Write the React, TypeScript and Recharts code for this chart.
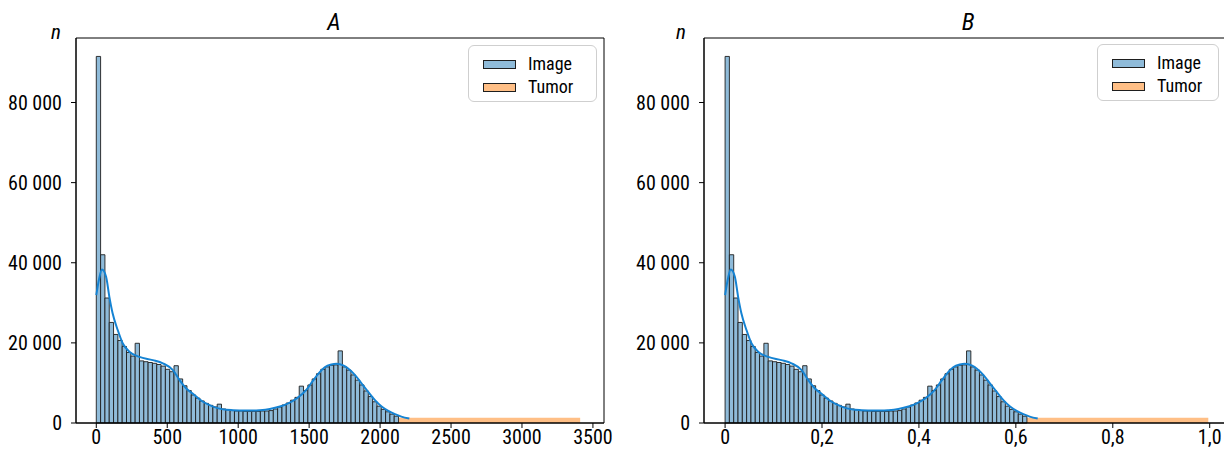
import React from 'react';
import { ComposedChart, Line, XAxis, YAxis, ReferenceArea } from 'recharts';

// ---------- data ----------
// histogram of image intensities (70 equal bins)
const imageCounts = [
  91500, 42000, 31200, 25100, 22100, 20600, 19100, 17600, 16700, 19900,
  15500, 15300, 15100, 14900, 14600, 14200, 13400, 12800, 14300, 11000,
  9300, 8100, 7000, 6200, 5500, 4900, 4400, 4000, 4700, 3500,
  3300, 3100, 3000, 3000, 2900, 2900, 2900, 2900, 3000, 3000,
  3100, 3500, 4000, 4500, 5000, 5700, 6400, 9200, 8100, 9500,
  11000, 12300, 13400, 14000, 14400, 14500, 18000, 14000, 13200, 12000,
  10700, 9500, 8000, 6600, 5300, 4200, 3400, 2800, 2200, 1700,
];
const imageMaxA = 2130; // upper edge of last image bin (raw units)
const tumorBinA = [2130, 3410]; // tumor histogram single bin (raw units)
const tumorCount = 1300;
const normMax = 3420; // normalisation constant for panel B

// KDE curve (raw units)
const kdeX = [0, 20, 40, 69, 92, 115, 151, 186, 233, 304, 398, 469, 540, 587, 634, 681, 752, 823, 894, 964,
  1047, 1105, 1153, 1223, 1294, 1341, 1412, 1483, 1530, 1570, 1610, 1657, 1692, 1740, 1775, 1822, 1869,
  1916, 1964, 2011, 2058, 2105, 2150, 2206];
const kdeY = [31900, 36000, 38300, 36500, 31500, 27400, 23200, 19900, 17800, 16500, 15700, 14900, 13200, 10700,
  8600, 7300, 5300, 4100, 3400, 3200, 3100, 3100, 3200, 3500, 4100, 4700, 6100, 8400, 10700, 12500, 13900,
  14600, 14800, 14400, 13600, 12000, 9900, 7800, 5700, 4100, 3000, 2200, 1600, 1100];

const yTicks = [0, 20000, 40000, 60000, 80000];
const xTicksA = [0, 500, 1000, 1500, 2000, 2500, 3000, 3500];
const xTicksB = [0, 0.2, 0.4, 0.6, 0.8, 1.0];
const legendLabels = ['Image', 'Tumor'];
const titles = ['A', 'B'];
const yLabel = 'n';

// ---------- style ----------
const FONT = '"Liberation Sans Narrow", "Arial Narrow", "Roboto Condensed", Roboto, sans-serif';
const BLUE_FILL = '#8fbbd9';
const ORANGE_FILL = '#ffbf86';
const EDGE = '#1e1e1e';
const KDE = '#1583d3';
const Y_MAX = 96100;

const fmtY = (v: number) => (v === 0 ? '0' : `${v / 1000} 000`);
const fmtA = (v: number) => String(v);
const fmtB = (v: number) => (v === 0 ? '0' : v.toFixed(1).replace('.', ','));

type PanelProps = {
  left: number;
  width: number;
  yAxisWidth: number;
  marginRight: number;
  scale: number;
  xDomain: [number, number];
  xTicks: number[];
  fmtX: (v: number) => string;
};

function Panel({ left, width, yAxisWidth, marginRight, scale, xDomain, xTicks, fmtX }: PanelProps) {
  const binW = imageMaxA / imageCounts.length / scale;
  const kdeData = kdeX.map((x, i) => ({ x: x / scale, y: kdeY[i] }));
  const tick = { fill: '#000', fontSize: 20, fontFamily: FONT };
  return (
    <div style={{ position: 'absolute', left, top: 0 }}>
      <ComposedChart
        width={width}
        height={455}
        data={kdeData}
        margin={{ top: 38, right: marginRight, bottom: 0, left: 0 }}
      >
        <XAxis
          dataKey="x"
          type="number"
          domain={xDomain}
          allowDataOverflow
          ticks={xTicks}
          tickFormatter={fmtX}
          height={32}
          tickSize={5}
          tickMargin={2}
          axisLine={{ stroke: '#000' }}
          tickLine={{ stroke: '#000' }}
          tick={tick}
          interval={0}
        />
        <YAxis
          type="number"
          domain={[0, Y_MAX]}
          allowDataOverflow
          ticks={yTicks}
          tickFormatter={fmtY}
          width={yAxisWidth}
          tickSize={5}
          tickMargin={9}
          axisLine={{ stroke: '#000' }}
          tickLine={{ stroke: '#000' }}
          tick={tick}
          interval={0}
        />
        <ReferenceArea
          x1={tumorBinA[0] / scale}
          x2={tumorBinA[1] / scale}
          y1={0}
          y2={tumorCount}
          fill={ORANGE_FILL}
          fillOpacity={1}
          stroke="none"
          ifOverflow="visible"
        />
        {imageCounts.map((c, i) => (
          <ReferenceArea
            key={i}
            x1={i * binW}
            x2={(i + 1) * binW}
            y1={0}
            y2={c}
            fill={BLUE_FILL}
            fillOpacity={1}
            stroke={EDGE}
            strokeWidth={0.9}
            ifOverflow="visible"
          />
        ))}
        <ReferenceArea
          x1={xDomain[0]}
          x2={xDomain[1]}
          y1={0}
          y2={Y_MAX}
          fill="none"
          fillOpacity={0}
          stroke="#000"
          strokeWidth={1}
          ifOverflow="visible"
        />
        <Line
          dataKey="y"
          type="monotone"
          stroke={KDE}
          strokeWidth={2}
          dot={false}
          activeDot={false}
          isAnimationActive={false}
        />
      </ComposedChart>
    </div>
  );
}

function LegendBox({ left, top, width }: { left: number; top: number; width: number }) {
  const fills = [BLUE_FILL, ORANGE_FILL];
  return (
    <div
      style={{
        position: 'absolute',
        left,
        top,
        width,
        height: 57,
        border: '1px solid #cfcfcf',
        borderRadius: 6,
        boxSizing: 'border-box',
        background: 'rgba(255,255,255,0.85)',
        fontFamily: FONT,
        fontSize: 18,
        color: '#000',
      }}
    >
      {legendLabels.map((lab, i) => (
        <div key={lab} style={{ position: 'absolute', left: 14, top: 10 + i * 23, height: 16, display: 'flex', alignItems: 'center' }}>
          <div style={{ width: 33, height: 9, background: fills[i], border: `1px solid ${EDGE}`, boxSizing: 'border-box' }} />
          <span style={{ marginLeft: 12, lineHeight: '16px' }}>{lab}</span>
        </div>
      ))}
    </div>
  );
}

const textStyle: React.CSSProperties = {
  position: 'absolute',
  fontFamily: FONT,
  fontStyle: 'italic',
  color: '#000',
  lineHeight: '24px',
};

export default function App() {
  return (
    <div
      style={{
        position: 'fixed',
        left: 0,
        top: 0,
        width: 1224,
        height: 455,
        overflow: 'hidden',
        background: '#fff',
      }}
    >
      <Panel left={0} width={620} yAxisWidth={76} marginRight={16} scale={1} xDomain={[-143, 3578]} xTicks={xTicksA} fmtX={fmtA} />
      <Panel left={620} width={620} yAxisWidth={84} marginRight={8} scale={normMax} xDomain={[-0.0435, 1.046]} xTicks={xTicksB} fmtX={fmtB} />
      <LegendBox left={468} top={45} width={129} />
      <LegendBox left={1097} top={44} width={122} />
      <div style={{ ...textStyle, left: 234, width: 200, top: 10, textAlign: 'center', fontSize: 24 }}>{titles[0]}</div>
      <div style={{ ...textStyle, left: 868, width: 200, top: 10, textAlign: 'center', fontSize: 24 }}>{titles[1]}</div>
      <div style={{ ...textStyle, left: 51, top: 20, fontSize: 21 }}>{yLabel}</div>
      <div style={{ ...textStyle, left: 676, top: 20, fontSize: 21 }}>{yLabel}</div>
    </div>
  );
}
